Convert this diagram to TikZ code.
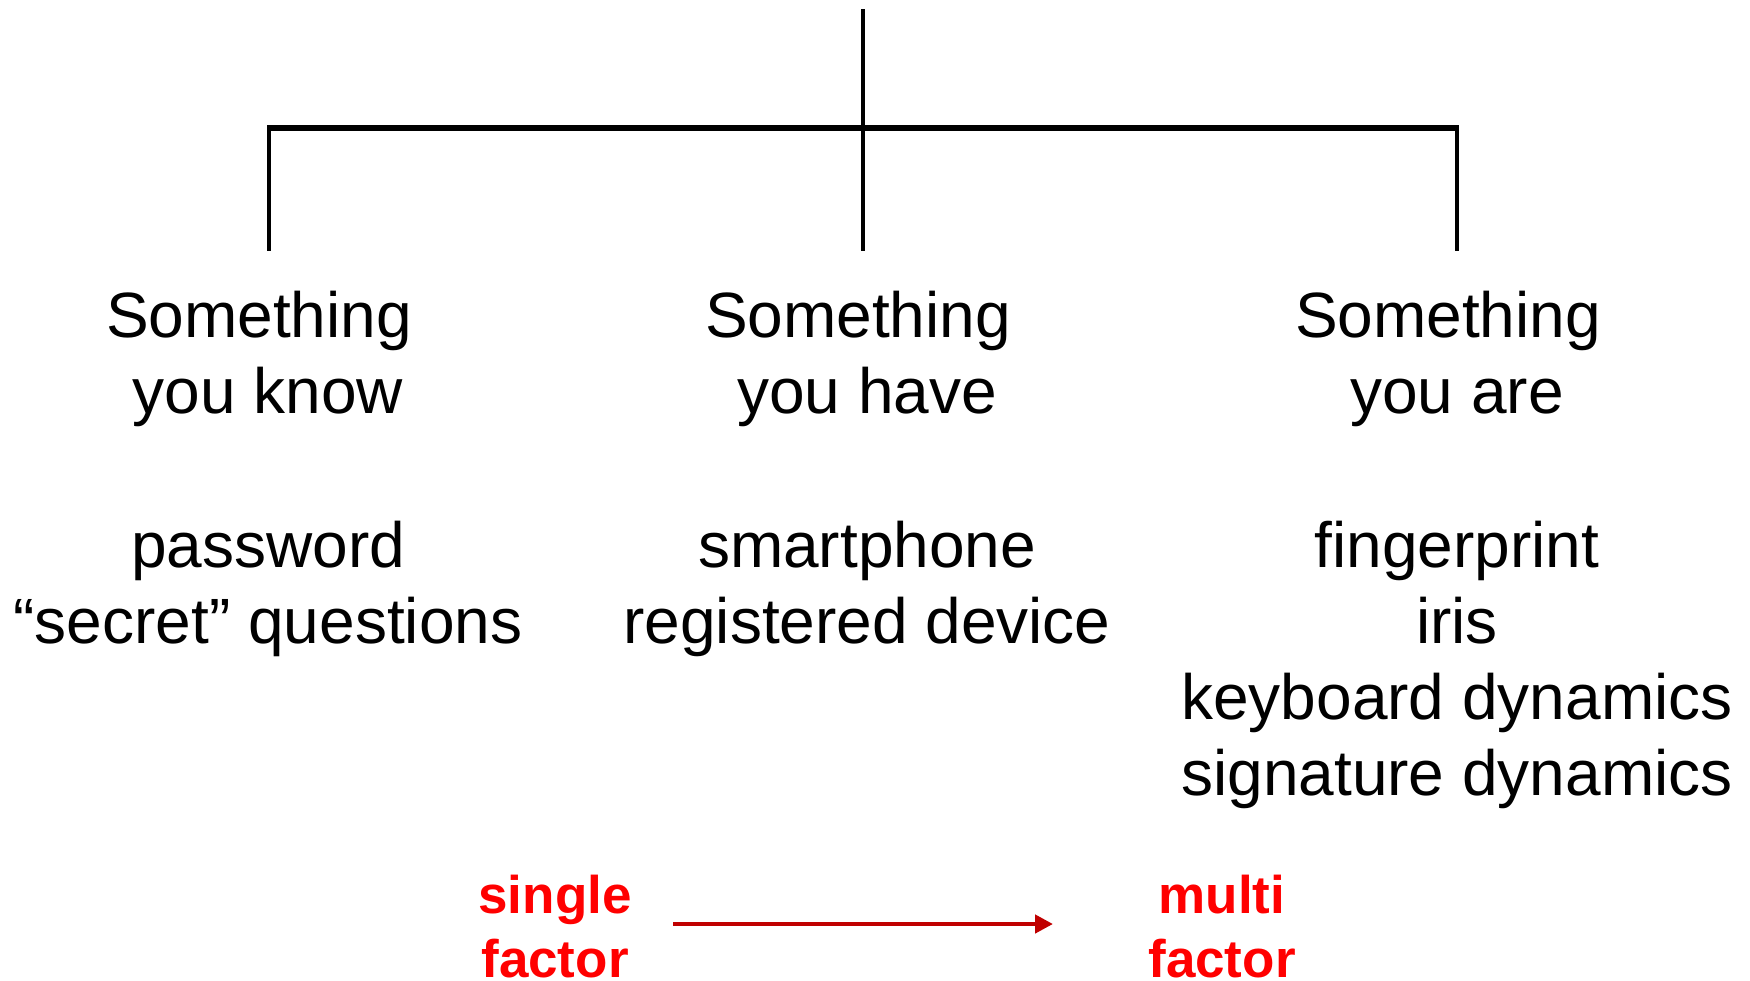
\documentclass[tikz,border=0pt]{standalone}
\usepackage{fontspec}
\setmainfont{Liberation Sans}
\usetikzlibrary{arrows.meta}
\definecolor{arrowred}{HTML}{C00000}
\begin{document}
\begin{tikzpicture}[x=0.5pt,y=-0.5pt,
  lbl/.style={anchor=base,align=center,inner sep=0pt,font=\fontsize{32}{38}\selectfont},
  redlbl/.style={anchor=base,align=center,inner sep=0pt,text=red,font=\bfseries\fontsize{26.5}{32}\selectfont},
  treeline/.style={line width=2pt,line cap=butt},
  hline/.style={line width=2.6pt},
  prog/.style={draw=arrowred,line width=2.2pt,-{Triangle[length=9pt,width=9pt]}}]
\useasboundingbox (0,0) rectangle (1750,980);
% tree
\coordinate (top) at (863,9);
\coordinate (hub) at (863,128);
\coordinate (L) at (269,128);
\coordinate (R) at (1457,128);
\coordinate (Lb) at (269,251);
\coordinate (Mb) at (863,251);
\coordinate (Rb) at (1457,251);
\draw[treeline] (top) -- (hub);
\draw[hline] ([xshift=-1pt]L) -- ([xshift=1pt]R);
\draw[treeline] (L) -- (Lb);
\draw[treeline] (hub) -- (Mb);
\draw[treeline] (R) -- (Rb);
% headings (multi-line node: base = baseline of last line)
\node[lbl] (know) at (268,413) {Something\hspace*{9pt}\\you know};
\node[lbl] (have) at (867,413) {Something\hspace*{9pt}\\you have};
\node[lbl] (are) at (1457,413) {Something\hspace*{9pt}\\you are};
% examples
\node[lbl] (knowex) at (268,643) {password\\“secret” questions};
\node[lbl] (haveex) at (867,643) {smartphone\\registered device};
\node[lbl] (areex) at (1457,795) {fingerprint\\iris\\keyboard dynamics\\signature dynamics};
% bottom
\node[redlbl] (single) at (555,977) {single\\factor};
\node[redlbl] (multi) at (1222,977) {multi\\factor};
\coordinate (a1) at (673,924);
\coordinate (a2) at (1053,924);
\draw[prog] (a1) -- (a2);
\end{tikzpicture}
\end{document}
